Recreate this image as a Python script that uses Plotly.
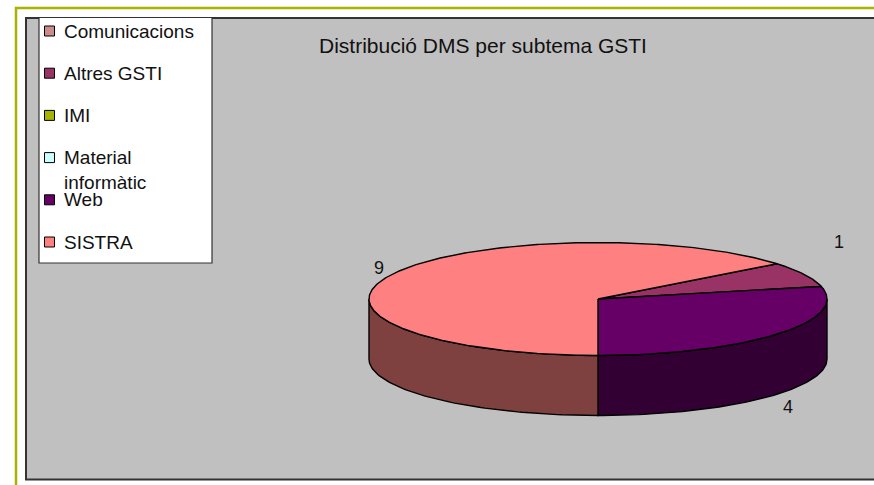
import numpy as np
import plotly.graph_objects as go

# ---- data ----
categories = ["Comunicacions", "Altres GSTI", "IMI", "Material informàtic", "Web", "SISTRA"]
values = [0, 1, 0, 0, 4, 9]
legend_labels = ["Comunicacions", "Altres GSTI", "IMI", "Material<br>informàtic", "Web", "SISTRA"]
title_text = "Distribució DMS per subtema GSTI"

# ---- style ----
top_colors = ["#CC8C8C", "#993366", "#A6B300", "#CCFFFF", "#660066", "#FF8080"]
FONT = "Liberation Sans, Arial, sans-serif"
W, H = 874, 485
CX, CY, RX, RY, DEPTH = 598, 299, 229, 56.5, 60
FIRST_SLICE_DEG = 51.43  # from 12 o'clock, clockwise


def darken(hexc, f=0.5):
    h = hexc.lstrip("#")
    r, g, b = (int(h[i:i + 2], 16) for i in (0, 2, 4))
    return "#%02X%02X%02X" % (int(r * f), int(g * f), int(b * f))


def ell(a_deg, dy=0.0):
    a = np.radians(a_deg)
    return CX + RX * np.cos(a), CY - RY * np.sin(a) + dy


total = float(sum(values))
# math angles (ccw from east); slices go clockwise starting at FIRST_SLICE_DEG
start = 90.0 - FIRST_SLICE_DEG
slices = []
a = start
for cat, v, col in zip(categories, values, top_colors):
    sweep = v / total * 360.0
    slices.append((cat, v, col, a - sweep, a))  # [lo, hi] in math degrees
    a -= sweep

fig = go.Figure()

# sides (front half: 180..360 math degrees)
for cat, v, col, lo, hi in slices:
    if v == 0:
        continue
    for shift in (0, 360, -360):
        l, h = lo + shift, hi + shift
        s, e = max(l, 180.0), min(h, 360.0)
        if e - s <= 0.01:
            continue
        angs = np.linspace(s, e, 80)
        tx, ty = ell(angs)
        bx, by = ell(angs[::-1], DEPTH)
        xs = np.concatenate([tx, bx, tx[:1]])
        ys = np.concatenate([ty, by, ty[:1]])
        fig.add_trace(go.Scatter(x=xs, y=ys, mode="lines", fill="toself",
                                 fillcolor=darken(col), line=dict(color="black", width=1.4),
                                 hoverinfo="skip", showlegend=False))

# tops
for cat, v, col, lo, hi in slices:
    if v == 0:
        continue
    angs = np.linspace(lo, hi, max(int((hi - lo) * 1.5), 8))
    ex, ey = ell(angs)
    xs = np.concatenate([[CX], ex, [CX]])
    ys = np.concatenate([[CY], ey, [CY]])
    fig.add_trace(go.Scatter(x=xs, y=ys, mode="lines", fill="toself",
                             fillcolor=col, line=dict(color="black", width=1.4),
                             hoverinfo="skip", showlegend=False, name=cat))

annotations = []
# data labels
for cat, v, col, lo, hi in slices:
    if v == 0:
        continue
    mid = np.radians((lo + hi) / 2.0)
    lx = CX + (RX + 14) * np.cos(mid)
    ly = CY - (RY + 14) * np.sin(mid)
    if np.sin(mid) < 0:
        ly += DEPTH + 4
    if (hi - lo) < 40:
        lx += 22
        ly -= 26
    annotations.append(dict(x=lx, y=ly, xref="x", yref="y", text=str(v), showarrow=False,
                            font=dict(family=FONT, size=18, color="#111111"),
                            xanchor="center", yanchor="middle"))

# title
annotations.append(dict(x=483, y=45, xref="x", yref="y", text=title_text, showarrow=False,
                        font=dict(family=FONT, size=21, color="#111111"),
                        xanchor="center", yanchor="middle"))

shapes = [
    # olive outer frame
    dict(type="rect", xref="x", yref="y", x0=16, y0=8, x1=W + 20, y1=H + 20,
         line=dict(color="#AAB400", width=2.5), fillcolor="white", layer="below"),
    # grey chart area
    dict(type="rect", xref="x", yref="y", x0=26, y0=18, x1=W + 20, y1=479.5,
         line=dict(color="#333333", width=2), fillcolor="#C0C0C0", layer="below"),
    # legend box
    dict(type="rect", xref="x", yref="y", x0=39, y0=17.5, x1=212, y1=263,
         line=dict(color="#333333", width=1.2), fillcolor="white", layer="below"),
]

ROW0, ROWSTEP = 31, 42.2
for i, (lab, col) in enumerate(zip(legend_labels, top_colors)):
    yc = ROW0 + i * ROWSTEP
    shapes.append(dict(type="rect", xref="x", yref="y", x0=44.5, x1=54.5, y0=yc - 5, y1=yc + 5,
                       line=dict(color="black", width=1), fillcolor=col, layer="above"))
    if "<br>" in lab:
        annotations.append(dict(x=62, y=yc - 13, xref="x", yref="y", text=lab, showarrow=False,
                                font=dict(family=FONT, size=19, color="#111111"),
                                xanchor="left", yanchor="top", align="left"))
    else:
        annotations.append(dict(x=62, y=yc, xref="x", yref="y", text=lab, showarrow=False,
                                font=dict(family=FONT, size=19, color="#111111"),
                                xanchor="left", yanchor="middle"))

fig.update_layout(
    width=W, height=H,
    margin=dict(l=0, r=0, t=0, b=0, pad=0),
    paper_bgcolor="white", plot_bgcolor="white",
    xaxis=dict(range=[0, W], visible=False, fixedrange=True),
    yaxis=dict(range=[H, 0], visible=False, fixedrange=True),
    shapes=shapes, annotations=annotations, showlegend=False,
)

fig.write_html("out.html", config={"displayModeBar": False},
               post_script="document.body.style.margin='0';")
